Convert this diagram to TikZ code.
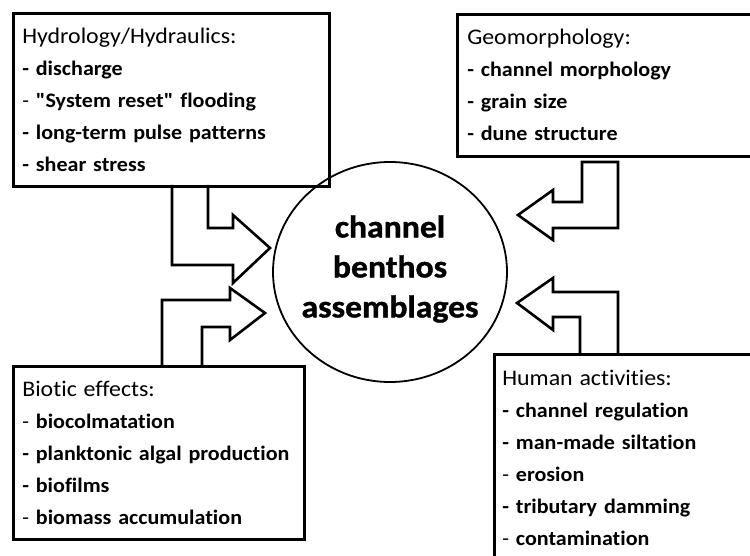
\documentclass[tikz,border=0pt]{standalone}
\usepackage{fontspec}
\setmainfont[FakeStretch=1.07,Ligatures=CommonOff]{Carlito}
\newfontfamily\plainfont[FakeStretch=1.07]{Carlito}
\newfontfamily\hubfont[FakeStretch=1.07,FakeBold=1.2,UprightFont=* Bold,Ligatures=CommonOff]{Carlito}
\usetikzlibrary{shapes.geometric}
\newcommand{\hdr}[1]{{\fontsize{22.3}{32}\selectfont #1}}
\newcommand{\dq}{{\plainfont\bfseries "}}
\begin{document}
\begin{tikzpicture}[x=1pt,y=-1pt,
  infobox/.style={draw=black, line width=2.6pt, anchor=north west, align=left,
    inner ysep=0pt, font=\fontsize{20.6}{32}\selectfont},
  bigarrow/.style={draw=black, line width=2.6pt, line join=miter},
  hubtext/.style={inner sep=0pt, align=center, font=\hubfont\fontsize{31.5}{40}\selectfont},
  hubring/.style={draw=black, line width=1.8pt}]
\useasboundingbox (0,0) rectangle (750,556);
\fill[white] (0,0) rectangle (750,556);

\node[hubtext] (hubnode) at (390,269) {channel\\benthos\\assemblages};
\draw[hubring] (390,272) ellipse [x radius=117, y radius=110];

\node[infobox, minimum width=316pt, minimum height=173pt, inner xsep=9pt, text width=298pt] (hydro) at (12,12)
 {\hdr{Hydrology/Hydraulics:}\\
  \textbf{- discharge}\\
  - \textbf{\dq System reset\dq\ flooding}\\
  \textbf{- long-term pulse patterns}\\
  \textbf{- shear stress}};

\node[infobox, minimum width=360pt, minimum height=142pt, inner xsep=6pt, text width=340pt] (geo) at (456,13)
 {\hdr{Geomorphology:}\\
  \textbf{- channel morphology}\\
  \textbf{- grain size}\\
  \textbf{- dune structure}};

\node[infobox, minimum width=291pt, minimum height=173pt, inner xsep=9pt, text width=273pt] (bio) at (12,365)
 {\hdr{Biotic effects:}\\
  - \textbf{biocolmatation}\\
  \textbf{- planktonic algal production}\\
  \textbf{- biofilms}\\
  - \textbf{biomass accumulation}};

\node[infobox, minimum width=360pt, minimum height=208pt, inner xsep=8pt, text width=344pt] (human) at (493,353)
 {\hdr{Human activities:}\\
  \textbf{- channel regulation}\\
  \textbf{- man-made siltation}\\
  - \textbf{erosion}\\
  \textbf{- tributary damming}\\
  - \textbf{contamination}};

% block arrows
\draw[bigarrow] (172,185) -- (172,265) -- (233,265) -- (233,283) -- (270,248) -- (233,215) -- (233,228) -- (208,228) -- (208,185);
\draw[bigarrow] (582,162) -- (618,162) -- (618,228) -- (553,228) -- (553,240) -- (518,215) -- (553,190) -- (553,202) -- (582,202) -- cycle;
\draw[bigarrow] (162,365) -- (162,300) -- (230,300) -- (230,288) -- (265,313) -- (230,340) -- (230,327) -- (202,327) -- (202,365);
\draw[bigarrow] (618,353) -- (618,292) -- (553,292) -- (553,278) -- (517,303) -- (553,330) -- (553,317) -- (580,317) -- (580,353);
\end{tikzpicture}
\end{document}
